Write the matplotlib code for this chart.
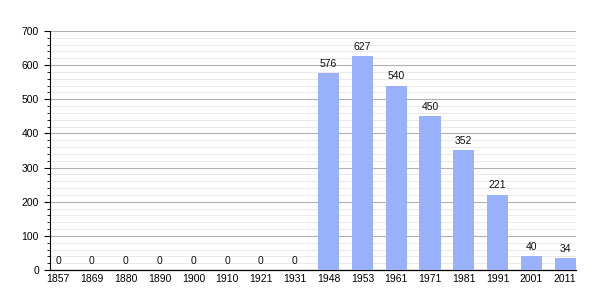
import matplotlib
matplotlib.use("Agg")
import matplotlib.pyplot as plt
from matplotlib.ticker import MultipleLocator

plt.rcParams['font.family'] = ['Liberation Sans', 'DejaVu Sans']

years = ["1857", "1869", "1880", "1890", "1900", "1910", "1921", "1931",
         "1948", "1953", "1961", "1971", "1981", "1991", "2001", "2011"]
population = [0, 0, 0, 0, 0, 0, 0, 0, 576, 627, 540, 450, 352, 221, 40, 34]

fig = plt.figure(figsize=(6.05, 3.0), dpi=100)
ax = fig.add_axes([50/605, 30/300, 526/605, 239/300])

x = list(range(len(years)))
bars = ax.bar(x, population, width=0.63, color="#99b0fb", zorder=3)
for xi, v in zip(x, population):
    ax.annotate(str(v), (xi, v), xytext=(0, 3), textcoords="offset points",
                ha="center", va="bottom", fontsize=7.5, color="#111111", zorder=4)

ax.set_xlim(-0.24, 15.32)
ax.set_ylim(0, 700)
ax.set_xticks(x)
ax.set_xticklabels(years, fontsize=7.5)
ax.tick_params(axis="x", length=0, pad=3)
ax.yaxis.set_major_locator(MultipleLocator(100))
ax.yaxis.set_minor_locator(MultipleLocator(20))
ax.tick_params(axis="y", which="major", labelsize=7.5, length=4, color="#000000", pad=4)
ax.tick_params(axis="y", which="minor", length=2, color="#000000")
ax.grid(axis="y", which="major", color="#b0b0b0", linewidth=0.8, zorder=0)
ax.grid(axis="y", which="minor", color="#e6e6e6", linewidth=0.6, zorder=0)
for s in ["top", "right"]:
    ax.spines[s].set_visible(False)
ax.spines["left"].set_color("#000000")
ax.spines["bottom"].set_color("#000000")
ax.spines["left"].set_linewidth(0.8)
ax.spines["bottom"].set_linewidth(0.9)

fig.savefig("out.png", dpi=100)
